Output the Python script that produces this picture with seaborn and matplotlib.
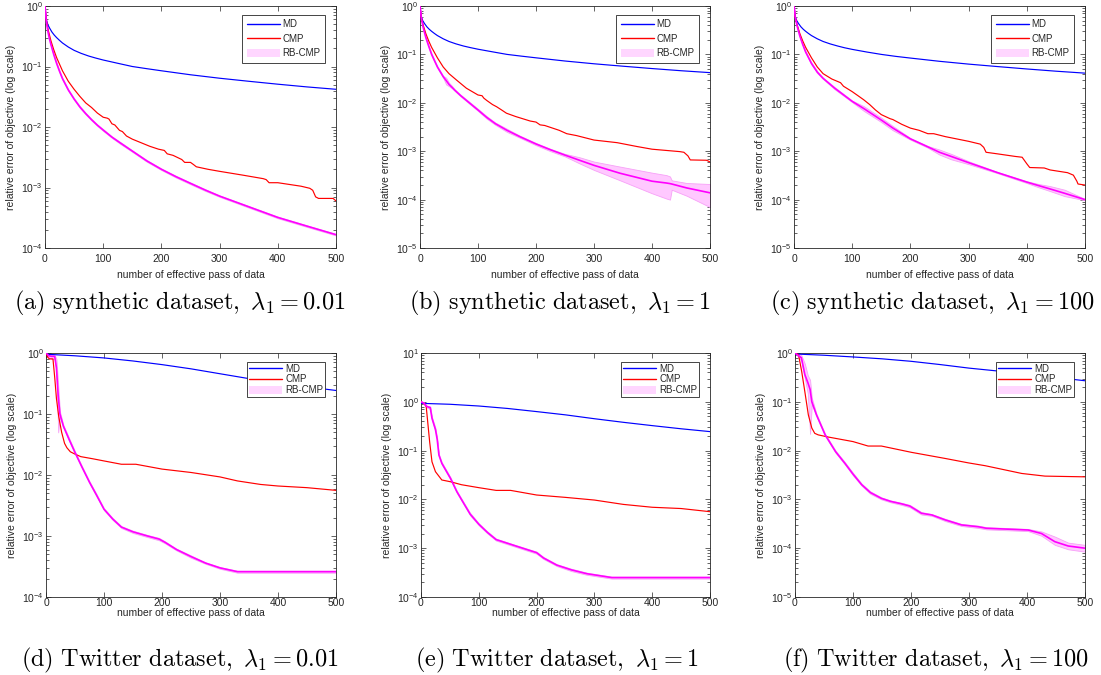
import numpy as np
import matplotlib
matplotlib.use("Agg")
import matplotlib.pyplot as plt
import seaborn as sns
from matplotlib.lines import Line2D
from matplotlib.patches import Patch
from matplotlib.ticker import LogLocator, NullFormatter

# ---------------- data ----------------
xticks = [0, 100, 200, 300, 400, 500]
legend_labels = ["MD", "CMP", "RB-CMP"]
captions = [
    r"$\mathrm{(a)\ synthetic\ dataset,}\ \lambda_1 = 0.01$",
    r"$\mathrm{(b)\ synthetic\ dataset,}\ \lambda_1 = 1$",
    r"$\mathrm{(c)\ synthetic\ dataset,}\ \lambda_1 = 100$",
    r"$\mathrm{(d)\ Twitter\ dataset,}\ \lambda_1 = 0.01$",
    r"$\mathrm{(e)\ Twitter\ dataset,}\ \lambda_1 = 1$",
    r"$\mathrm{(f)\ Twitter\ dataset,}\ \lambda_1 = 100$",
]
ylims = [(1e-4, 1), (1e-5, 1), (1e-5, 1), (1e-4, 1), (1e-4, 10), (1e-5, 1)]

# MD, synthetic
md_x_syn = [0, 1, 2, 3, 5, 8, 12, 16, 20, 25, 30, 40, 50, 62, 75, 87, 100, 125, 150, 175, 200, 250, 300, 350, 400, 450, 500]
md_a = [1.0, 0.75, 0.62, 0.56, 0.49, 0.43, 0.37, 0.33, 0.3, 0.27, 0.245, 0.21, 0.185, 0.165, 0.149, 0.138, 0.128, 0.113, 0.1, 0.092, 0.085, 0.073, 0.064, 0.057, 0.051, 0.046, 0.042]
md_b = [1.0, 0.75, 0.62, 0.56, 0.49, 0.43, 0.37, 0.33, 0.3, 0.27, 0.245, 0.21, 0.185, 0.165, 0.149, 0.138, 0.128, 0.113, 0.1, 0.092, 0.085, 0.073, 0.064, 0.057, 0.051, 0.046, 0.042]
md_c = [1.0, 0.75, 0.62, 0.56, 0.49, 0.43, 0.37, 0.33, 0.3, 0.27, 0.245, 0.21, 0.185, 0.165, 0.149, 0.137, 0.127, 0.112, 0.1, 0.091, 0.084, 0.072, 0.063, 0.056, 0.05, 0.045, 0.041]
# MD, Twitter
md_x_tw = [0, 50, 100, 150, 200, 250, 300, 350, 400, 450, 500]
md_d = [0.955, 0.9, 0.83, 0.74, 0.645, 0.55, 0.457, 0.38, 0.324, 0.279, 0.243]
md_e = [0.93, 0.89, 0.82, 0.73, 0.63, 0.54, 0.45, 0.38, 0.325, 0.28, 0.245]
md_f = [0.955, 0.9, 0.83, 0.76, 0.676, 0.58, 0.49, 0.427, 0.367, 0.316, 0.27]

# CMP
cmp_a_x = [0, 2, 5, 10, 15, 20, 30, 40, 50, 60, 70, 80, 90, 100, 107, 110, 115, 120, 128, 133,
           140, 150, 165, 180, 195, 200, 205, 210, 220, 235, 240, 250, 255, 260, 280, 300, 340, 375, 380, 385,
           400, 440, 455, 460, 465, 470, 495, 500]
cmp_a = [1.0, 0.6, 0.42, 0.27, 0.19, 0.14, 0.085, 0.057, 0.042, 0.032, 0.025, 0.021, 0.017, 0.0145, 0.014, 0.0135, 0.0113, 0.0108, 0.0088, 0.0084,
         0.0071, 0.0063, 0.0055, 0.0048, 0.0043, 0.0042, 0.0041, 0.0036, 0.0034, 0.0029, 0.0026, 0.0026, 0.0024, 0.0022, 0.002, 0.00185, 0.0016, 0.0014, 0.00135, 0.0012,
         0.0012, 0.00105, 0.00097, 0.0009, 0.0007, 0.00066, 0.00066, 0.0006]
cmp_b_x = [0, 2, 5, 10, 15, 20, 30, 40, 50, 63, 80, 100, 107, 110, 115, 125, 132, 140, 149, 165,
           190, 200, 207, 215, 240, 253, 270, 300, 340, 374, 400, 448, 455, 462, 466, 494, 500]
cmp_b = [1.0, 0.6, 0.42, 0.27, 0.19, 0.14, 0.085, 0.055, 0.04, 0.0295, 0.02, 0.0145, 0.014, 0.0125, 0.0112, 0.0092, 0.0083, 0.0072, 0.0061, 0.0052,
         0.0042, 0.004, 0.0035, 0.0034, 0.0027, 0.0023, 0.0021, 0.0017, 0.0015, 0.00125, 0.0011, 0.00098, 0.00095, 0.0008, 0.00066, 0.00065, 0.0006]
cmp_c_x = [0, 2, 5, 10, 15, 20, 30, 40, 50, 65, 80, 85, 100, 110, 120, 130, 140, 150, 165, 170,
           185, 200, 215, 230, 240, 260, 300, 320, 326, 330, 350, 380, 392, 400, 405, 430, 440, 470, 480, 486, 488, 500]
cmp_c = [1.0, 0.6, 0.42, 0.27, 0.19, 0.14, 0.085, 0.055, 0.04, 0.031, 0.026, 0.022, 0.017, 0.014, 0.0115, 0.0092, 0.0071, 0.0057, 0.0047, 0.0045,
         0.0036, 0.003, 0.0027, 0.0023, 0.0023, 0.002, 0.0016, 0.0014, 0.0012, 0.00095, 0.00088, 0.00078, 0.00075, 0.00055, 0.00046, 0.00045, 0.00041, 0.00036, 0.00032, 0.00024, 0.00021, 0.0002]
cmp_d_x = [0, 3, 6, 12, 15, 18, 22, 27, 32, 36, 42, 50, 60, 80, 100, 130, 155, 200, 250, 300, 330, 370, 400, 450, 500]
cmp_d = [1.0, 0.85, 0.8, 0.8, 0.4, 0.18, 0.09, 0.05, 0.033, 0.028, 0.024, 0.022, 0.02, 0.0185, 0.017, 0.015, 0.015, 0.0125, 0.011, 0.0093, 0.008, 0.007, 0.0066, 0.0062, 0.0056]
cmp_e_x = [0, 5, 9, 11.5, 15, 19, 25, 36, 51, 70, 100, 130, 155, 200, 250, 300, 350, 400, 450, 500]
cmp_e = [1.0, 0.94, 0.8, 0.4, 0.15, 0.059, 0.037, 0.025, 0.023, 0.02, 0.0174, 0.0153, 0.0153, 0.0123, 0.011, 0.0097, 0.0079, 0.0069, 0.0065, 0.0056]
cmp_f_x = [0, 6, 11.5, 17, 23, 29, 34, 40, 57, 100, 126, 149, 201, 259, 299, 328, 391, 431, 500]
cmp_f = [1.0, 0.93, 0.42, 0.16, 0.054, 0.029, 0.0226, 0.021, 0.019, 0.0153, 0.0124, 0.0124, 0.0092, 0.0069, 0.0056, 0.0049, 0.0034, 0.003, 0.0029]

# RB-CMP: mean, lower and upper edge of the band
rb_a_x = [0, 1, 2, 3, 5, 7.5, 10, 15, 20, 25, 30, 40, 50, 60, 70, 80, 90, 100, 115, 130,
          150, 175, 200, 225, 250, 275, 300, 350, 400, 450, 500]
rb_a = [1.0, 0.76, 0.6, 0.5, 0.38, 0.29, 0.234, 0.158, 0.112, 0.083, 0.063, 0.041, 0.029, 0.0214, 0.0166, 0.0132, 0.0107, 0.0089, 0.0068, 0.0054,
        0.004, 0.00275, 0.002, 0.00151, 0.00117, 0.00091, 0.00072, 0.00048, 0.00032, 0.00023, 0.000166]
rb_a_lo = [1.0, 0.74, 0.585, 0.485, 0.37, 0.282, 0.227, 0.153, 0.108, 0.08, 0.061, 0.0397, 0.0281, 0.0207, 0.0161, 0.0128, 0.0104, 0.0086, 0.0066, 0.0052,
           0.00388, 0.00266, 0.00194, 0.00146, 0.00113, 0.00088, 0.0007, 0.000465, 0.00031, 0.000223, 0.000161]
rb_a_hi = [1.0, 0.78, 0.615, 0.515, 0.39, 0.298, 0.241, 0.163, 0.116, 0.086, 0.065, 0.0423, 0.0299, 0.0221, 0.0171, 0.0136, 0.011, 0.0092, 0.007, 0.0056,
           0.00412, 0.00284, 0.00206, 0.00156, 0.00121, 0.00094, 0.00074, 0.000495, 0.00033, 0.000237, 0.000171]

rb_b_x = [0, 2, 5, 10, 15, 20, 25, 30, 40, 45, 50, 55, 60, 70, 85, 100, 115, 130, 150, 172,
          200, 225, 250, 275, 300, 345, 400, 425, 431, 434, 460, 500]
rb_b = [1.0, 0.6, 0.38, 0.224, 0.148, 0.1, 0.074, 0.055, 0.0347, 0.029, 0.024, 0.021, 0.0182, 0.0141, 0.01, 0.0071, 0.005, 0.0037, 0.0027, 0.002,
        0.00141, 0.00107, 0.00083, 0.00065, 0.00051, 0.00035, 0.00024, 0.00022, 0.000214, 0.00021, 0.000174, 0.000138]
rb_b_lo = [1.0, 0.58, 0.37, 0.216, 0.142, 0.096, 0.071, 0.053, 0.033, 0.024, 0.022, 0.02, 0.0175, 0.0136, 0.0096, 0.0068, 0.0047, 0.0035, 0.0025, 0.0019,
           0.00133, 0.001, 0.00078, 0.00056, 0.00041, 0.00025, 0.000135, 0.000105, 0.0001, 0.00016, 0.00012, 0.00007]
rb_b_hi = [1.0, 0.62, 0.39, 0.232, 0.154, 0.104, 0.077, 0.057, 0.036, 0.033, 0.026, 0.0225, 0.019, 0.0147, 0.0105, 0.0075, 0.0053, 0.0039, 0.0029, 0.0021,
           0.00148, 0.00112, 0.00088, 0.00075, 0.00061, 0.00048, 0.00036, 0.00032, 0.0003, 0.00025, 0.00022, 0.00021]

rb_c_x = [0, 2, 5, 10, 15, 20, 30, 40, 50, 70, 100, 120, 150, 170, 200, 230, 250, 270, 300, 350, 400, 420, 440, 465, 500]
rb_c = [1.0, 0.6, 0.4, 0.24, 0.16, 0.112, 0.065, 0.043, 0.032, 0.02, 0.0107, 0.0076, 0.0044, 0.003, 0.0018, 0.00123, 0.00095, 0.00078, 0.00058, 0.00036, 0.00023, 0.000195, 0.000166, 0.000135, 0.0001]
rb_c_lo = [1.0, 0.58, 0.385, 0.23, 0.154, 0.108, 0.062, 0.041, 0.031, 0.019, 0.0103, 0.0068, 0.004, 0.0027, 0.00173, 0.00118, 0.00085, 0.00068, 0.00054, 0.00035, 0.00022, 0.00018, 0.00015, 0.000118, 0.000097]
rb_c_hi = [1.0, 0.62, 0.415, 0.25, 0.166, 0.116, 0.068, 0.045, 0.033, 0.021, 0.0111, 0.0085, 0.0049, 0.0033, 0.00187, 0.00128, 0.00108, 0.00088, 0.00062, 0.00037, 0.00024, 0.00021, 0.00019, 0.00016, 0.000103]

rb_d_x = [0, 5, 10, 15, 18, 21, 24, 30, 40, 50, 62, 75, 87, 100, 115, 130, 150, 175, 195, 205,
          225, 250, 275, 300, 330, 400, 500]
rb_d = [1.0, 0.9, 0.88, 0.88, 0.57, 0.2, 0.1, 0.063, 0.038, 0.0234, 0.0135, 0.0076, 0.0047, 0.00275, 0.0019, 0.0014, 0.00117, 0.001, 0.00089, 0.00079,
        0.0006, 0.00046, 0.00036, 0.0003, 0.00026, 0.00026, 0.00026]
rb_d_lo = [1.0, 0.85, 0.8, 0.8, 0.5, 0.05, 0.09, 0.06, 0.036, 0.0224, 0.013, 0.0073, 0.0045, 0.00265, 0.00183, 0.00135, 0.00112, 0.00096, 0.00085, 0.00076,
           0.00058, 0.00044, 0.00035, 0.00029, 0.00025, 0.00025, 0.00025]
rb_d_hi = [1.0, 0.95, 0.92, 0.92, 0.8, 0.3, 0.11, 0.066, 0.04, 0.0244, 0.014, 0.0079, 0.0049, 0.00285, 0.00197, 0.00145, 0.00122, 0.00104, 0.00093, 0.00082,
           0.00062, 0.00048, 0.00037, 0.00031, 0.00027, 0.00027, 0.00027]

rb_e_x = [0, 5, 10, 16, 19, 25, 28, 31, 36, 51, 62, 75, 85, 100, 115, 130, 160, 200, 212, 235, 260, 287, 330, 400, 500]
rb_e = [1.0, 0.94, 0.8, 0.76, 0.46, 0.27, 0.17, 0.081, 0.055, 0.027, 0.0144, 0.0079, 0.005, 0.0031, 0.0021, 0.0015, 0.00115, 0.00081, 0.00063, 0.00045, 0.00036, 0.0003, 0.00025, 0.00025, 0.00025]
rb_e_lo = [1.0, 0.9, 0.76, 0.72, 0.43, 0.25, 0.16, 0.077, 0.052, 0.0256, 0.0137, 0.0075, 0.0047, 0.00295, 0.002, 0.00143, 0.0011, 0.00077, 0.0006, 0.00043, 0.00034, 0.000285, 0.000238, 0.000238, 0.000238]
rb_e_hi = [1.0, 0.98, 0.84, 0.8, 0.49, 0.29, 0.18, 0.085, 0.058, 0.0284, 0.0151, 0.0083, 0.0053, 0.00325, 0.0022, 0.00157, 0.0012, 0.00085, 0.00066, 0.00047, 0.00038, 0.000315, 0.000262, 0.000262, 0.000262]

rb_f_x = [0, 5, 11, 17, 22, 26, 29, 37, 52, 70, 86, 100, 115, 130, 149, 165, 184, 198, 218, 236,
          259, 287, 316, 330, 402, 425, 448, 471, 500]
rb_f = [1.0, 0.9, 0.8, 0.36, 0.25, 0.18, 0.1, 0.054, 0.021, 0.0095, 0.0055, 0.0033, 0.002, 0.00138, 0.00105, 0.00091, 0.00081, 0.00073, 0.00052, 0.00048,
        0.00038, 0.0003, 0.000275, 0.000256, 0.000236, 0.0002, 0.000136, 0.000111, 0.0001]
rb_f_lo = [1.0, 0.85, 0.7, 0.3, 0.15, 0.022, 0.09, 0.051, 0.02, 0.009, 0.0052, 0.0031, 0.0019, 0.0013, 0.001, 0.00087, 0.00077, 0.00069, 0.00049, 0.00046,
           0.00036, 0.000285, 0.00026, 0.000243, 0.000224, 0.00018, 0.000117, 0.000095, 0.000085]
rb_f_hi = [1.0, 0.95, 0.9, 0.6, 0.35, 0.28, 0.12, 0.057, 0.022, 0.01, 0.0058, 0.0035, 0.0021, 0.00146, 0.0011, 0.00095, 0.00085, 0.00077, 0.00055, 0.0005,
           0.0004, 0.000315, 0.00029, 0.00027, 0.000248, 0.00022, 0.000173, 0.00013, 0.000117]

# ---------------- style ----------------
sns.set_theme(style="ticks")
plt.rcParams['font.family'] = ['Liberation Sans', 'DejaVu Sans']
plt.rcParams['mathtext.fontset'] = 'custom'
plt.rcParams['mathtext.rm'] = 'Liberation Sans'
plt.rcParams['mathtext.it'] = 'Liberation Sans:italic'
plt.rcParams['mathtext.bf'] = 'Liberation Sans:bold'

C_MD = '#0000ff'
C_CMP = '#ff0000'
C_RB = '#ff00ff'
C_BAND = '#ffc8ff'
C_BAND_EDGE = '#f7a0f7'
GRAY = '#262626'

W, H = 1101, 675
fig = plt.figure(figsize=(W / 100, H / 100), dpi=100)

# axes boxes in pixels: left, top, right, bottom
boxes = [(45, 6, 336, 248), (420, 6, 710, 248), (794, 6, 1085, 248),
         (46, 353, 336, 597), (421, 353, 710, 597), (795, 353, 1085, 597)]
caption_pos = [(180, 303), (560, 303), (932, 303), (180, 660), (557, 660), (936, 660)]

panels = [
    (md_x_syn, md_a, cmp_a_x, cmp_a, rb_a_x, rb_a, rb_a_lo, rb_a_hi),
    (md_x_syn, md_b, cmp_b_x, cmp_b, rb_b_x, rb_b, rb_b_lo, rb_b_hi),
    (md_x_syn, md_c, cmp_c_x, cmp_c, rb_c_x, rb_c, rb_c_lo, rb_c_hi),
    (md_x_tw, md_d, cmp_d_x, cmp_d, rb_d_x, rb_d, rb_d_lo, rb_d_hi),
    (md_x_tw, md_e, cmp_e_x, cmp_e, rb_e_x, rb_e, rb_e_lo, rb_e_hi),
    (md_x_tw, md_f, cmp_f_x, cmp_f, rb_f_x, rb_f, rb_f_lo, rb_f_hi),
]

for i, (box, pdata) in enumerate(zip(boxes, panels)):
    l, t, r, b = box
    ax = fig.add_axes([l / W, 1 - b / H, (r - l) / W, (b - t) / H])
    mdx, mdy, cx, cy, rx, ry, rlo, rhi = pdata
    ax.set_yscale('log')
    ax.fill_between(rx, rlo, rhi, facecolor=C_BAND, edgecolor=C_BAND_EDGE, lw=0.6, zorder=1)
    sns.lineplot(x=mdx, y=mdy, ax=ax, color=C_MD, lw=0.85, estimator=None, zorder=3)
    sns.lineplot(x=cx, y=cy, ax=ax, color=C_CMP, lw=0.85, estimator=None, zorder=3)
    sns.lineplot(x=rx, y=ry, ax=ax, color=C_RB, lw=1.2, estimator=None, zorder=4)

    ax.set_xlim(0, 500)
    ax.set_ylim(*ylims[i])
    ax.set_xticks(xticks)
    ax.yaxis.set_major_locator(LogLocator(base=10, numticks=12))
    ax.yaxis.set_minor_locator(LogLocator(base=10, subs=np.arange(2, 10), numticks=12))
    ax.yaxis.set_minor_formatter(NullFormatter())

    top_row = i < 3
    ax.tick_params(axis='both', which='both', direction='in', top=True, right=True,
                   colors=GRAY, labelsize=7.5, width=0.5)
    ax.tick_params(which='major', length=3.5)
    ax.tick_params(which='minor', length=2)
    ax.tick_params(axis='y', pad=1.5)
    ax.tick_params(axis='x', pad=4.0 if top_row else 0.5)
    for s in ax.spines.values():
        s.set_linewidth(0.6)
        s.set_color(GRAY)
        s.set_visible(True)

    ax.set_xlabel("number of effective pass of data", fontsize=7.5, color=GRAY,
                  labelpad=4.5 if top_row else 0.5)
    ax.set_ylabel("relative error of objective (log scale)", fontsize=7.5, color=GRAY, labelpad=4)

    handles = [Line2D([], [], color=C_MD, lw=1.0),
               Line2D([], [], color=C_CMP, lw=1.0),
               Patch(facecolor='#ffd6ff', edgecolor='none')]
    leg = ax.legend(handles, legend_labels, loc='upper right',
                    bbox_to_anchor=(1 - 11 / (r - l), 1 - 9 / (b - t)),
                    borderaxespad=0, fontsize=7, frameon=True, fancybox=False,
                    framealpha=1, edgecolor=GRAY, handlelength=3.4, handleheight=0.9,
                    handletextpad=0.3,
                    labelspacing=0.45 if top_row else 0.05,
                    borderpad=0.45 if top_row else 0.2)
    leg.get_frame().set_linewidth(0.6)

    cxp, cyp = caption_pos[i]
    fig.text(cxp / W, 1 - cyp / H, captions[i], ha='center', va='center',
             fontsize=17.5, math_fontfamily='cm', color='black')

fig.savefig("out.png", dpi=100)
